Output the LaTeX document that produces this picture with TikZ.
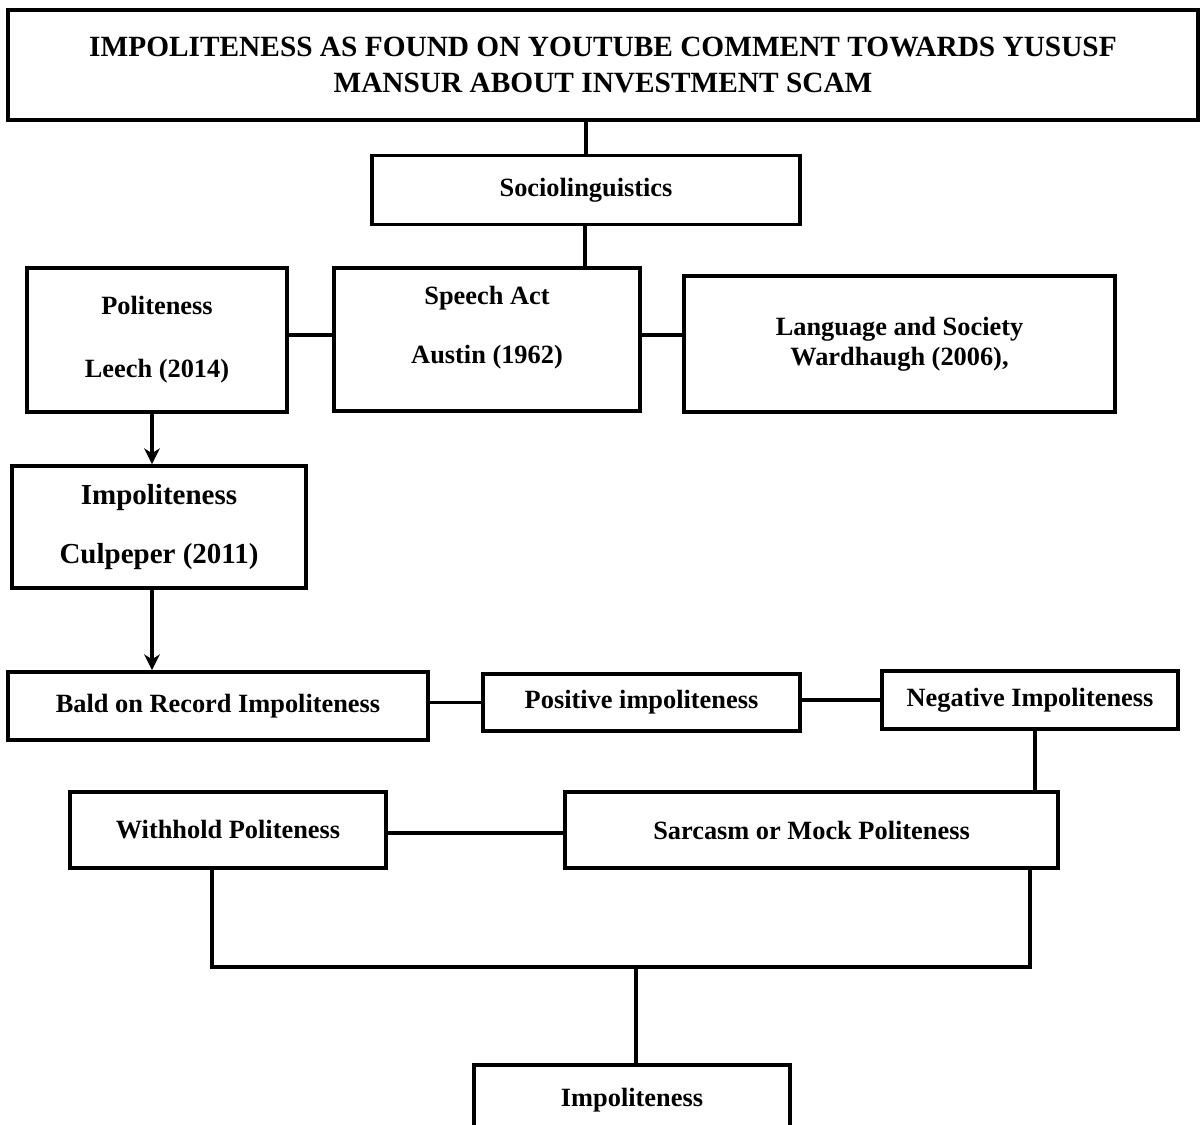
\documentclass[tikz,border=0pt]{standalone}
\usepackage{fontspec}
\setmainfont{Liberation Serif}
\usetikzlibrary{arrows.meta,positioning}

\begin{document}
\begin{tikzpicture}[>={Stealth[length=9pt,width=9pt]},
  box/.style={draw, line width=2.2pt, inner sep=0pt, align=center,
    font=\fontsize{15}{18}\selectfont\bfseries},
  link/.style={line width=2.1pt}]
  \useasboundingbox (0,0) rectangle (24,-22.48);
% Title
  \node[box, minimum width=23.8cm, minimum height=2.2cm,
    font=\fontsize{16.7}{21}\selectfont\bfseries] (title) at (12.06,-1.3)
    {IMPOLITENESS AS FOUND ON YOUTUBE COMMENT TOWARDS YUSUSF\\MANSUR ABOUT INVESTMENT SCAM};
  \node[box, minimum width=8.56cm, minimum height=1.38cm] (socio) at (11.72,-3.8) {Sociolinguistics};
% Theories
  \node[box, minimum width=5.2cm, minimum height=2.88cm] (pol) at (3.14,-6.8)
    {Politeness\\[18pt]Leech (2014)};
  \node[box, minimum width=6.12cm, minimum height=2.86cm] (speech) at (9.74,-6.79)
    {\begin{tabular}{@{}c@{}}Speech Act\\[15.5pt]Austin (1962)\\[13pt]\end{tabular}};
  \node[box, minimum width=8.62cm, minimum height=2.72cm] (lang) at (17.99,-6.88)
    {Language and Society\\[-1pt]Wardhaugh (2006),};
  \node[box, minimum width=5.88cm, minimum height=2.44cm,
    font=\fontsize{16.5}{20}\selectfont\bfseries] (imp) at (3.18,-10.54)
    {Impoliteness\\[14pt]Culpeper (2011)};
% Strategies
  \node[box, minimum width=8.4cm, minimum height=1.36cm] (bald) at (4.36,-14.12) {Bald on Record Impoliteness};
  \node[box, minimum width=6.34cm, minimum height=1.14cm] (pos) at (12.83,-14.05) {Positive impoliteness};
  \node[box, minimum width=5.92cm, minimum height=1.16cm] (neg) at (20.6,-14.0) {Negative Impoliteness};
  \node[box, minimum width=6.32cm, minimum height=1.52cm] (with) at (4.56,-16.6) {Withhold Politeness};
  \node[box, minimum width=9.86cm, minimum height=1.52cm] (sarc) at (16.23,-16.6) {Sarcasm or Mock Politeness};
  \node[box, minimum width=6.32cm, minimum height=1.4cm] (result) at (12.64,-22.0) {Impoliteness};
% Links
  \draw[link] (title.south -| socio.north) -- (socio.north);
  \draw[link] ([xshift=-0.02cm]socio.south) -- ([xshift=-0.02cm]socio.south |- speech.north);
  \draw[link] (pol.east |- 0,-6.7) -- (speech.west |- 0,-6.7);
  \draw[link] (speech.east |- 0,-6.7) -- (lang.west |- 0,-6.7);
  \draw[link,->] ([xshift=-0.1cm]pol.south) -- ([xshift=-0.1cm]pol.south |- imp.north);
  \draw[link,->] ([xshift=-0.14cm]imp.south) -- ([xshift=-0.14cm]imp.south |- bald.north);
  \draw[link] (bald.east |- pos.west) -- (pos.west);
  \draw[link] (pos.east |- neg.west) -- (neg.west);
  \draw[link] (20.7,-14.0 |- neg.south) -- (20.7,-14.0 |- sarc.north);
  \draw[link] (with.east |- 0,-16.66) -- (sarc.west |- 0,-16.66);
% Joining to the result
  \coordinate (bl) at (4.24,-19.34);
  \coordinate (br) at (20.6,-19.34);
  \coordinate (join) at (12.72,-19.34);
  \draw[link] (with.south -| bl) -- (bl) -- (br) -- (br |- sarc.south);
  \draw[link] (join) -- (join |- result.north);
\end{tikzpicture}
\end{document}
